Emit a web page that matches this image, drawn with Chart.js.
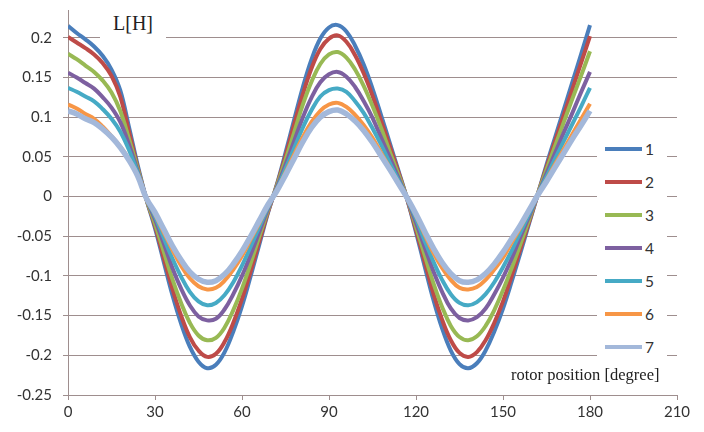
<!DOCTYPE html>
<html>
<head>
<meta charset="utf-8">
<script src="https://cdn.jsdelivr.net/npm/chart.js@4/dist/chart.umd.min.js"></script>
<style>
  html, body { margin: 0; padding: 0; background: #fff; }
  #wrap { position: relative; width: 704px; height: 432px; overflow: hidden; }
  canvas { position: absolute; left: 0; top: 0; }
  .lbl { position: absolute; font-family: "Liberation Serif", serif; color: #222; white-space: nowrap; }
  #unit { left: 100px; top: 8px; width: 66px; height: 32px; background: #fff; font-size: 20px; line-height: 30px; text-align: center; }
  #xname { left: 511px; top: 365px; font-size: 16.5px; line-height: 20px; }
  #legend { position: absolute; left: 597px; top: 132px; width: 70px; height: 230px; background: #fff; }
  .row { position: absolute; left: 8px; height: 20px; width: 60px; font-family: Lato, "Open Sans", sans-serif; font-size: 15.5px; color: #333; }
  .row .ln { position: absolute; left: 0; top: 8px; width: 37px; height: 3.5px; }
  .row .tx { position: absolute; left: 40px; top: 0; line-height: 20px; }
</style>
</head>
<body>
<div id="wrap">
  <canvas id="c" width="704" height="432"></canvas>
  <div id="unit" class="lbl">L[H]</div>
  <div id="xname" class="lbl">rotor position [degree]</div>
  <div id="legend"></div>
</div>
<script>
const angles = [0,3,6,9,12,15,18,21,24,27,30,33,36,39,42,45,48,51,54,57,60,63,66,69,72,75,78,81,84,87,90,93,96,99,102,105,108,111,114,117,120,123,126,129,132,135,138,141,144,147,150,153,156,159,162,165,168,171,174,177,180];

const series1 = [0.215,0.206,0.198,0.189,0.177,0.160,0.134,0.088,0.040,
  -0.003,-0.040,-0.082,-0.124,-0.160,-0.189,-0.208,-0.2163,-0.212,-0.196,-0.170,-0.138,-0.100,-0.060,-0.020,
  0.015,0.055,0.097,0.138,0.173,0.199,0.213,0.216,0.208,0.190,0.166,0.136,0.102,0.067,0.032,
  -0.004,-0.045,-0.088,-0.130,-0.166,-0.194,-0.211,-0.2163,-0.210,-0.194,-0.170,-0.141,-0.107,-0.071,-0.034,
  0.003,0.040,0.075,0.110,0.145,0.180,0.216];
const series2 = [0.201,0.194,0.187,0.179,0.168,0.152,0.126,0.082,0.037,
  -0.003,-0.037,-0.077,-0.116,-0.150,-0.177,-0.194,-0.202,-0.198,-0.183,-0.159,-0.129,-0.094,-0.056,-0.019,
  0.014,0.051,0.091,0.129,0.162,0.186,0.199,0.203,0.195,0.178,0.155,0.127,0.095,0.063,0.030,
  -0.004,-0.042,-0.082,-0.122,-0.155,-0.181,-0.197,-0.202,-0.196,-0.181,-0.159,-0.132,-0.100,-0.066,-0.032,
  0.003,0.037,0.070,0.103,0.136,0.169,0.202];
const series3 = [0.180,0.173,0.165,0.157,0.146,0.131,0.108,0.073,0.035,
  -0.003,-0.034,-0.069,-0.104,-0.134,-0.159,-0.175,-0.181,-0.178,-0.165,-0.143,-0.116,-0.084,-0.050,-0.017,
  0.013,0.046,0.081,0.116,0.145,0.167,0.179,0.182,0.175,0.160,0.139,0.114,0.086,0.056,0.027,
  -0.003,-0.038,-0.074,-0.109,-0.139,-0.163,-0.177,-0.181,-0.176,-0.163,-0.143,-0.118,-0.090,-0.060,-0.029,
  0.003,0.034,0.064,0.094,0.124,0.153,0.183];
const series4 = [0.156,0.150,0.143,0.136,0.125,0.112,0.094,0.066,0.032,
  -0.002,-0.029,-0.059,-0.090,-0.116,-0.137,-0.151,-0.156,-0.154,-0.142,-0.123,-0.100,-0.073,-0.044,-0.015,
  0.011,0.040,0.070,0.100,0.125,0.144,0.154,0.157,0.151,0.138,0.120,0.099,0.074,0.049,0.023,
  -0.003,-0.033,-0.064,-0.094,-0.120,-0.141,-0.153,-0.156,-0.152,-0.141,-0.123,-0.102,-0.078,-0.051,-0.025,
  0.002,0.029,0.055,0.081,0.106,0.132,0.157];
const series5 = [0.137,0.132,0.126,0.120,0.110,0.098,0.082,0.059,0.030,
  -0.002,-0.025,-0.052,-0.078,-0.101,-0.120,-0.132,-0.137,-0.134,-0.124,-0.108,-0.087,-0.063,-0.038,-0.013,
  0.009,0.035,0.061,0.087,0.109,0.126,0.134,0.136,0.132,0.120,0.105,0.086,0.065,0.042,0.020,
  -0.003,-0.028,-0.056,-0.082,-0.105,-0.123,-0.134,-0.137,-0.133,-0.123,-0.108,-0.089,-0.068,-0.045,-0.022,
  0.002,0.025,0.048,0.070,0.092,0.114,0.137];
const series6 = [0.116,0.111,0.104,0.098,0.088,0.076,0.063,0.047,0.027,
  -0.002,-0.022,-0.045,-0.067,-0.087,-0.103,-0.113,-0.117,-0.115,-0.106,-0.092,-0.075,-0.054,-0.033,-0.011,
  0.008,0.030,0.053,0.075,0.094,0.108,0.116,0.118,0.113,0.103,0.090,0.074,0.055,0.036,0.017,
  -0.002,-0.024,-0.048,-0.071,-0.090,-0.105,-0.115,-0.117,-0.114,-0.105,-0.092,-0.077,-0.058,-0.039,-0.018,
  0.002,0.021,0.041,0.060,0.079,0.098,0.117];
const series7 = [0.108,0.104,0.098,0.093,0.085,0.075,0.062,0.046,0.026,
  -0.002,-0.020,-0.041,-0.062,-0.080,-0.095,-0.104,-0.108,-0.106,-0.098,-0.085,-0.069,-0.050,-0.030,-0.010,
  0.007,0.027,0.048,0.069,0.087,0.100,0.107,0.109,0.104,0.095,0.083,0.068,0.051,0.034,0.016,
  -0.002,-0.022,-0.044,-0.065,-0.083,-0.097,-0.106,-0.108,-0.105,-0.097,-0.085,-0.070,-0.053,-0.036,-0.017,
  0.002,0.019,0.037,0.055,0.073,0.090,0.108];

const seriesNames = ['1','2','3','4','5','6','7'];
const seriesValues = [series1, series2, series3, series4, series5, series6, series7];
const colors = ['#4a7ebb','#be4b48','#98b954','#7d60a0','#46aac5','#f79646','#a3b8da'];
const widths = [4,4,4,4,4,4,5.5];

const xTicks = [0,30,60,90,120,150,180,210];
const yTicks = [-0.25,-0.2,-0.15,-0.1,-0.05,0,0.05,0.1,0.15,0.2];

const gridColor = '#9e8e8e';
const tickFont = { family: 'Lato, "Open Sans", sans-serif', size: 15 };

const datasets = seriesValues.map((vals, i) => ({
  label: seriesNames[i],
  data: angles.map((a, k) => ({ x: a, y: vals[k] })),
  borderColor: colors[i],
  backgroundColor: colors[i],
  borderWidth: widths[i],
  pointRadius: 0,
  fill: false,
  tension: 0.4,
  order: 7 - i
}));

new Chart(document.getElementById('c'), {
  type: 'line',
  data: { datasets },
  options: {
    responsive: false,
    animation: false,
    layout: { padding: { left: 0, right: 27, top: 10, bottom: 0 } },
    plugins: { legend: { display: false }, tooltip: { enabled: false } },
    scales: {
      x: {
        type: 'linear',
        min: 0, max: 210,
        afterBuildTicks: s => { s.ticks = xTicks.map(v => ({ value: v })); },
        afterFit: s => { s.height = 37; },
        ticks: { font: tickFont, color: '#333', padding: 3, maxRotation: 0 },
        grid: { drawOnChartArea: false, drawTicks: true, tickLength: 5, color: gridColor },
        border: { color: gridColor, width: 1 }
      },
      y: {
        type: 'linear',
        min: -0.25, max: 0.235,
        afterBuildTicks: s => { s.ticks = yTicks.map(v => ({ value: v })); },
        afterFit: s => { s.width = 68; s.paddingTop = 0; s.paddingBottom = 0; },
        ticks: {
          font: tickFont, color: '#333', padding: 11,
          callback: v => String(parseFloat(Number(v).toFixed(2)))
        },
        grid: { color: gridColor, tickLength: 5, drawTicks: true },
        border: { color: gridColor, width: 1 }
      }
    }
  }
});

const leg = document.getElementById('legend');
const rowCenters = [149, 182, 215, 248, 281, 314, 347];
seriesNames.forEach((n, i) => {
  const r = document.createElement('div');
  r.className = 'row';
  r.style.top = (rowCenters[i] - 132 - 10) + 'px';
  const ln = document.createElement('div');
  ln.className = 'ln';
  ln.style.background = colors[i];
  const tx = document.createElement('div');
  tx.className = 'tx';
  tx.textContent = n;
  r.appendChild(ln); r.appendChild(tx);
  leg.appendChild(r);
});
</script>
</body>
</html>
